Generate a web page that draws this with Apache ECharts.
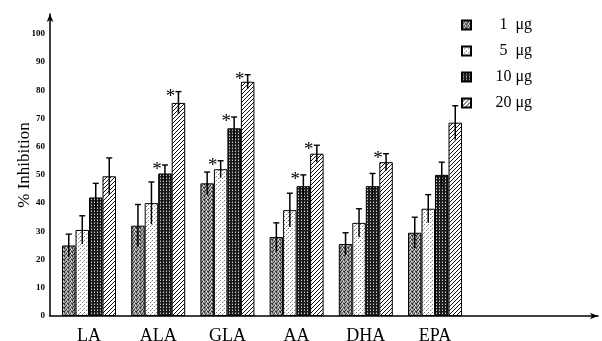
<!DOCTYPE html>
<html><head><meta charset="utf-8">
<script src="https://cdn.jsdelivr.net/npm/echarts@6/dist/echarts.min.js"></script>
<style>html,body{margin:0;padding:0;background:#fff}#c{width:602px;height:341px}</style>
</head><body><div id="c"></div>
<script>
// ---- data ----
const categories = ['LA', 'ALA', 'GLA', 'AA', 'DHA', 'EPA'];
const doseNames = ['1  μg', '5  μg', '10 μg', '20 μg'];
const dose1  = [25, 32, 47, 28, 25.5, 29.5];
const dose5  = [30.5, 40, 52, 37.5, 33, 38];
const dose10 = [42, 50.5, 66.5, 46, 46, 50];
const dose20 = [49.5, 75.5, 83, 57.5, 54.5, 68.5];
const err1  = [4, 7.5, 4, 5, 4, 5.5];
const err5  = [5, 7.5, 3, 6, 5, 5];
const err10 = [5, 3, 4, 4, 4.5, 4.5];
const err20 = [6.5, 4, 2.5, 3, 3, 6];
const sig1  = [0, 0, 0, 0, 0, 0];
const sig5  = [0, 0, 1, 0, 0, 0];
const sig10 = [0, 1, 1, 1, 0, 0];
const sig20 = [0, 1, 1, 1, 1, 0];
const yTicks = [0, 10, 20, 30, 40, 50, 60, 70, 80, 90, 100];

// ---- patterns ----
function makePattern(size, draw) {
  const cv = document.createElement('canvas');
  cv.width = size; cv.height = size;
  const ctx = cv.getContext('2d');
  draw(ctx);
  return { image: cv, repeat: 'repeat' };
}
function px(ctx, c, pts) { ctx.fillStyle = c; pts.forEach(p => ctx.fillRect(p[0], p[1], 1, 1)); }
const pat1 = makePattern(4, ctx => {
  ctx.fillStyle = '#9a9a9a'; ctx.fillRect(0, 0, 4, 4);
  px(ctx, '#333', [[0, 0], [2, 1], [1, 2], [3, 3], [0, 3]]);
  px(ctx, '#e0e0e0', [[2, 3], [3, 1]]);
});
const pat5 = makePattern(4, ctx => {
  ctx.fillStyle = '#ffffff'; ctx.fillRect(0, 0, 4, 4);
  px(ctx, '#777', [[0, 0], [2, 2]]);
  px(ctx, '#bbb', [[3, 1]]);
});
const pat10 = makePattern(3, ctx => {
  ctx.fillStyle = '#1a1a1a'; ctx.fillRect(0, 0, 3, 3);
  px(ctx, '#ccc', [[1, 1]]);
  px(ctx, '#666', [[1, 0]]);
});
const pat20 = makePattern(4, ctx => {
  ctx.fillStyle = '#ffffff'; ctx.fillRect(0, 0, 4, 4);
  px(ctx, '#111', [[3, 0], [2, 1], [1, 2], [0, 3]]);
});

const values = [dose1, dose5, dose10, dose20];
const errs = [err1, err5, err10, err20];
const sigs = [sig1, sig5, sig10, sig20];
const patterns = [pat1, pat5, pat10, pat20];
const BAR_W = 13.5;
const offsets = [-1.5, -0.5, 0.5, 1.5].map(k => k * BAR_W);

function errRender(offset) {
  return function (params, api) {
    const c = api.value(0), v = api.value(1), e = api.value(2), s = api.value(3);
    const top = api.coord([c, v + e]);
    const bot = api.coord([c, v - e]);
    const x = top[0] + offset;
    const children = [
      { type: 'line', shape: { x1: x, y1: top[1], x2: x, y2: bot[1] }, style: { stroke: '#000', lineWidth: 1.5 } },
      { type: 'line', shape: { x1: x - 3, y1: top[1], x2: x + 3, y2: top[1] }, style: { stroke: '#000', lineWidth: 1.4 } }
    ];
    if (s) {
      children.push({ type: 'text', style: { text: '*', x: x - 8, y: top[1] + 5, font: '19px "Liberation Serif"', fill: '#000', align: 'center', verticalAlign: 'middle' } });
    }
    return { type: 'group', children };
  };
}

const series = [];
values.forEach((vals, i) => {
  series.push({
    name: doseNames[i], type: 'bar', xAxisIndex: 1, yAxisIndex: 1,
    barWidth: BAR_W, barGap: '0%',
    data: vals,
    itemStyle: { color: patterns[i], borderColor: '#000', borderWidth: 1 },
    emphasis: { disabled: true }, silent: true
  });
});
values.forEach((vals, i) => {
  series.push({
    type: 'custom', xAxisIndex: 1, yAxisIndex: 1, silent: true, z: 5,
    renderItem: errRender(offsets[i]),
    data: vals.map((v, j) => [j, v, errs[i][j], sigs[i][j]])
  });
});

const chart = echarts.init(document.getElementById('c'), null, { renderer: 'canvas' });
chart.setOption({
  animation: false,
  backgroundColor: '#fff',
  grid: [
    { left: 50, right: 4, top: 14, bottom: 25, containLabel: false, outerBoundsMode: 'none' },
    { left: 54.4, right: 132.4, top: 14, bottom: 25, containLabel: false, outerBoundsMode: 'none' }
  ],
  legend: {
    data: doseNames, orient: 'vertical', left: 456, top: 12,
    itemWidth: 9, itemHeight: 9, itemGap: 10, icon: 'rect',
    formatter: n => '{a|' + n + '}',
    textStyle: { rich: { a: { width: 56, align: 'right', fontFamily: 'Liberation Serif', fontSize: 16, color: '#000' } } }
  },
  xAxis: [
    { type: 'value', gridIndex: 0, min: 0, max: 1, axisLabel: { show: false }, axisTick: { show: false }, splitLine: { show: false },
      axisLine: { show: true, symbol: ['none', 'arrow'], symbolSize: [5, 8], lineStyle: { color: '#000', width: 1.5 } } },
    { type: 'category', gridIndex: 1, data: categories, axisLine: { show: false }, axisTick: { show: false },
      axisLabel: { margin: 11, color: '#000', fontFamily: 'Liberation Serif', fontSize: 18 } }
  ],
  yAxis: [
    { type: 'value', gridIndex: 0, min: 0, max: 107, interval: 10,
      name: '% Inhibition', nameLocation: 'middle', nameGap: 17, nameRotate: 90, nameMoveOverlap: false,
      nameTextStyle: { fontFamily: 'Liberation Serif', fontSize: 17, color: '#000' },
      axisLine: { show: true, symbol: ['none', 'arrow'], symbolSize: [5, 8], lineStyle: { color: '#000', width: 1.5 } },
      axisTick: { show: false }, splitLine: { show: false },
      axisLabel: { margin: 5, color: '#000', fontFamily: 'Liberation Serif', fontSize: 9, fontWeight: 'bold',
        formatter: v => (yTicks.indexOf(v) >= 0 ? String(v) : '') } },
    { type: 'value', gridIndex: 1, min: 0, max: 107, show: false }
  ],
  series
});
</script></body></html>
